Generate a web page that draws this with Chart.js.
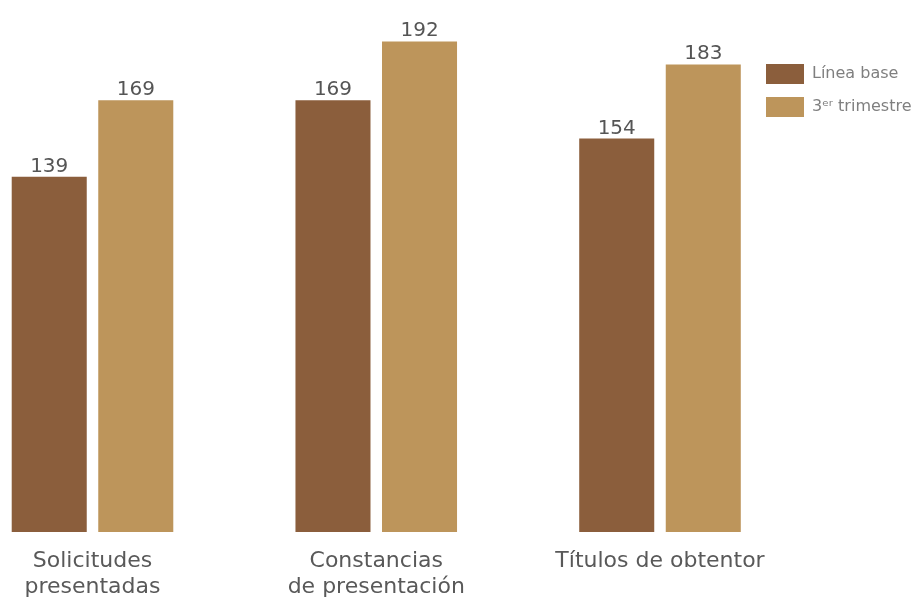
<!DOCTYPE html>
<html><head><meta charset="utf-8">
<script src="https://cdn.jsdelivr.net/npm/chart.js@4"></script>
<style>html,body{margin:0;padding:0;background:#fff}#wrap{width:914px;height:598px;position:relative}</style>
</head><body><div id="wrap"><canvas id="c" width="914" height="598"></canvas></div>
<script>
const categories = [["Solicitudes", "presentadas"], ["Constancias", "de presentación"], ["Títulos de obtentor"]];
const seriesNames = ["Línea base", "3ᵉʳ trimestre"];
const lineaBase = [139, 169, 154];
const tercerTrimestre = [169, 192, 183];
const colors = ["#8B5E3C", "#BD955B"];

const FAMILY = "'DejaVu Sans', sans-serif";
const legendFontSize = 16;
const mctx = document.createElement('canvas').getContext('2d');
mctx.font = legendFontSize + "px 'DejaVu Sans'";
const legendTextW = Math.max(...seriesNames.map(s => mctx.measureText(s).width));
const legendLeft = 753, legendPad = 13, boxW = 38;
const legendWidth = legendPad + boxW + legendFontSize / 2 + legendTextW + 10;
const rightPad = 914 - legendLeft - legendWidth;
const plotRight = 660;

const valueLabels = {
  id: 'valueLabels',
  afterDatasetsDraw(chart) {
    const ctx = chart.ctx;
    ctx.save();
    ctx.font = "20px " + FAMILY;
    ctx.fillStyle = '#555555';
    ctx.textAlign = 'center';
    ctx.textBaseline = 'alphabetic';
    chart.data.datasets.forEach((ds, i) => {
      chart.getDatasetMeta(i).data.forEach((bar, j) => {
        ctx.fillText(String(ds.data[j]), bar.x, bar.y - 5);
      });
    });
    ctx.restore();
  }
};

new Chart(document.getElementById('c'), {
  type: 'bar',
  data: {
    labels: categories,
    datasets: [
      { label: seriesNames[0], data: lineaBase, backgroundColor: colors[0], barPercentage: 0.867, categoryPercentage: 0.61, clip: false },
      { label: seriesNames[1], data: tercerTrimestre, backgroundColor: colors[1], barPercentage: 0.867, categoryPercentage: 0.61, clip: false }
    ]
  },
  options: {
    responsive: false,
    animation: false,
    layout: { padding: { left: 92.5, top: 21, right: rightPad, bottom: 0 } },
    plugins: {
      tooltip: { enabled: false },
      legend: {
        position: 'right',
        align: 'start',
        title: { display: true, text: ' ', font: { size: 10 }, padding: { top: 18, bottom: 0 } },
        labels: {
          boxWidth: 38, boxHeight: 20, padding: 13, color: '#7f7f7f',
          font: { family: FAMILY, size: legendFontSize }
        }
      }
    },
    scales: {
      x: {
        type: 'category',
        offset: false,
        grid: { display: false, drawTicks: false },
        border: { display: false },
        ticks: { color: '#595959', padding: 16, maxRotation: 0, autoSkip: false, font: { family: FAMILY, size: 22, lineHeight: 1.2 } },
        afterFit(s) { s.height = 66; }
      },
      y: {
        position: 'right',
        min: 0, max: 200,
        grid: { display: false, drawTicks: false },
        border: { display: false },
        ticks: { display: false },
        afterFit(s) { s.width = legendLeft - plotRight; }
      }
    }
  },
  plugins: [valueLabels]
});
</script></body></html>
